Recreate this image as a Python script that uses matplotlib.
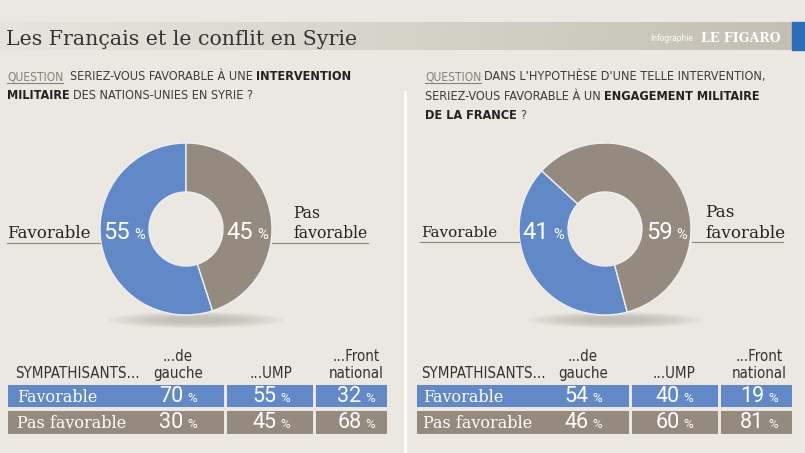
import numpy as np
import matplotlib.pyplot as plt
from matplotlib import font_manager as fm
from matplotlib.patches import Rectangle, Ellipse

W, H = 805, 453

title = "Les Français et le conflit en Syrie"
answers = ["Favorable", "Pas favorable"]
q1_share = [55, 45]
q2_share = [41, 59]
groups = ["...de\ngauche", "...UMP", "...Front\nnational"]
q1_fav = [70, 55, 32]
q1_pas = [30, 45, 68]
q2_fav = [54, 40, 19]
q2_pas = [46, 60, 81]

q1_lines = [[("QUESTION", "q"), ("  SERIEZ-VOUS FAVORABLE À UNE ", "n"), ("INTERVENTION", "b")],
            [("MILITAIRE", "b"), (" DES NATIONS-UNIES EN SYRIE ?", "n")]]
q2_lines = [[("QUESTION", "q"), (" DANS L'HYPOTHÈSE D'UNE TELLE INTERVENTION,", "n")],
            [("SERIEZ-VOUS FAVORABLE À UN ", "n"), ("ENGAGEMENT MILITAIRE", "b")],
            [("DE LA FRANCE", "b"), (" ?", "n")]]

BLUE = "#6189c8"
TAUPE = "#958a7e"
BG = "#eae8e1"
BAND = "#c3c0b2"
SERIF = ["DejaVu Serif"]
LIGHT = ["Roboto", "DejaVu Sans"]

# pick the narrowest sans available for the condensed captions
fonts = fm.fontManager.ttflist
COND_KW = dict(family=["Roboto", "DejaVu Sans"])
if any(f.name == "Liberation Sans Narrow" for f in fonts):
    COND_KW = dict(family=["Liberation Sans Narrow", "DejaVu Sans"])
elif any(f.name == "DejaVu Sans" and f.stretch == "condensed" for f in fonts):
    COND_KW = dict(family=["DejaVu Sans"], fontstretch="condensed")


def Y(y):
    return H - y


fig = plt.figure(figsize=(W / 100, H / 100), dpi=100, facecolor=BG)
ax = fig.add_axes([0, 0, 1, 1])
ax.set_facecolor(BG)
ax.set_xlim(0, W)
ax.set_ylim(0, H)
r = fig.canvas.get_renderer()


def tw(t):
    return t.get_window_extent(renderer=r).width


def fit(x, y, s, w, **kw):
    # text whose size is set so that it spans w pixels
    t = ax.text(x, Y(y), s, fontsize=10, va="baseline", **kw)
    t.set_fontsize(10 * w / tw(t))
    return t


def rich_lines(x, y0, lines, size, lead):
    arts = []
    sp = 0.25 * size * 100 / 72
    end = x
    for i, parts in enumerate(lines):
        xx = x
        y = y0 + i * lead
        for s, kind in parts:
            xx += (len(s) - len(s.lstrip(" "))) * sp
            if kind == "q":
                t = ax.text(xx, Y(y), s.strip(), fontsize=size * 0.95, color="#85827a",
                            va="baseline", **COND_KW)
                w = tw(t)
                arts += ax.plot([xx, xx + w], [Y(y + 3), Y(y + 3)], color="#85827a", lw=0.8)
            else:
                t = ax.text(xx, Y(y), s.strip(), fontsize=size,
                            color="#222222" if kind == "b" else "#3c3c3c",
                            fontweight="bold" if kind == "b" else "normal",
                            va="baseline", **COND_KW)
                w = tw(t)
            arts.append(t)
            xx += w + (len(s) - len(s.rstrip(" "))) * sp
        end = max(end, xx)
    return arts, end


def pct(xc, y, v, size, color="white", ha="center"):
    # number with a smaller % sign
    a = ax.text(0, Y(y), str(v), fontsize=size, color=color, family=LIGHT,
                fontweight="normal", va="baseline")
    b = ax.text(0, Y(y), "%", fontsize=size * 0.62, color=color, family=LIGHT,
                fontweight="normal", va="baseline")
    wa, wb = tw(a), tw(b)
    gap = size * 0.25
    total = wa + gap + wb
    x0 = xc - total / 2 if ha == "center" else xc - total
    a.set_x(x0)
    b.set_x(x0 + wa + gap)


# header band
grad = np.linspace(0.15, 1, 400) ** 1.2
band = np.zeros((1, 400, 4))
band[0, :, :3] = [int(BAND[i:i + 2], 16) / 255 for i in (1, 3, 5)]
band[0, :, 3] = grad
ax.imshow(band, extent=(0, 792, Y(50), Y(22)), aspect="auto", zorder=0)
ax.add_patch(Rectangle((792, Y(50)), 13, 28, color="#2b6db9", zorder=1))
fit(6, 45, title, 352, family=SERIF, color="#333333")
fit(650, 41, "Infographie", 43, color="white", **COND_KW)
fit(701, 42, "LE FIGARO", 80, family=SERIF, color="white", fontweight="bold")

# divider
ax.plot([405, 405], [Y(92), 0], color="white", lw=2)

# questions
trial, end = rich_lines(7, 79, q1_lines, 10, 19)
qsize = 10 * (350 - 7) / (end - 7)
for a in trial:
    a.remove()
rich_lines(7, 80, q1_lines, qsize, 19)
rich_lines(425, 80, q2_lines, qsize, 19.5)

# donuts
R, R_in = 86, 37
donuts = [(186, q1_share, 90), (605, q2_share, 137.4)]
for cx, share, start in donuts:
    cy = Y(229)
    for k in range(7):
        ax.add_patch(Ellipse((cx + 10, Y(320)), 175 - k * 18, 16 - k * 1.6,
                             color="#9f9b90", alpha=0.09, lw=0, zorder=1))
    ax.pie(share, colors=[BLUE, TAUPE], startangle=start, counterclock=True,
           radius=R, center=(cx, cy), frame=True,
           wedgeprops=dict(width=R - R_in, edgecolor="#eef0f4", linewidth=1))
    mid = (R + R_in) / 2
    pct(cx - mid, 239, share[0], 17)
    pct(cx + mid, 239, share[1], 17)

# donut labels (left panel)
ax.plot([7, 100], [Y(243), Y(243)], color="#8a877f", lw=0.8)
ax.plot([272, 368], [Y(243), Y(243)], color="#8a877f", lw=0.8)
fit(7, 238, answers[0], 84, family=SERIF, color="#222222")
t = fit(293, 238, "favorable", 75, family=SERIF, color="#222222")
ax.text(293, Y(218), "Pas", fontsize=t.get_fontsize(), family=SERIF, color="#222222", va="baseline")
# right panel
ax.plot([420, 519], [Y(242), Y(242)], color="#8a877f", lw=0.8)
ax.plot([692, 783], [Y(242), Y(242)], color="#8a877f", lw=0.8)
fit(421, 237, answers[0], 77, family=SERIF, color="#222222")
t = fit(705, 238, "favorable", 80, family=SERIF, color="#222222")
ax.text(705, Y(217), "Pas", fontsize=t.get_fontsize(), family=SERIF, color="#222222", va="baseline")

# tables
tables = [
    (15, [(8, 224), (227, 313), (316, 387)], [197, 290, 375], q1_fav, q1_pas),
    (421, [(417, 629), (632, 718), (721, 792)], [602, 693, 778], q2_fav, q2_pas),
]
rows = [(385, 407, 402), (411, 434, 428)]
for lx, cells, vx, fav, pas in tables:
    hs = fit(lx, 378, "SYMPATHISANTS...", 124, color="#333333", **COND_KW).get_fontsize()
    for g, x in zip(groups, vx):
        for j, line in enumerate(reversed(g.split("\n"))):
            ax.text(x - 19, Y(378 - j * 17), line, fontsize=hs, color="#333333",
                    ha="center", va="baseline", **COND_KW)
    for (y0, y1, yb), vals, col, lab in zip(rows, [fav, pas], [BLUE, TAUPE], answers):
        for x0, x1 in cells:
            ax.add_patch(Rectangle((x0, Y(y1)), x1 - x0, y1 - y0, color=col, lw=0))
        ax.text(lx + 2, Y(yb), lab, fontsize=11.5, family=SERIF, color="white", va="baseline")
        for v, x in zip(vals, vx):
            pct(x, yb, v, 15.5, ha="right")

ax.set_xlim(0, W)
ax.set_ylim(0, H)
ax.set_aspect("auto")
ax.axis("off")
fig.savefig("out.png", dpi=100, facecolor=BG)
